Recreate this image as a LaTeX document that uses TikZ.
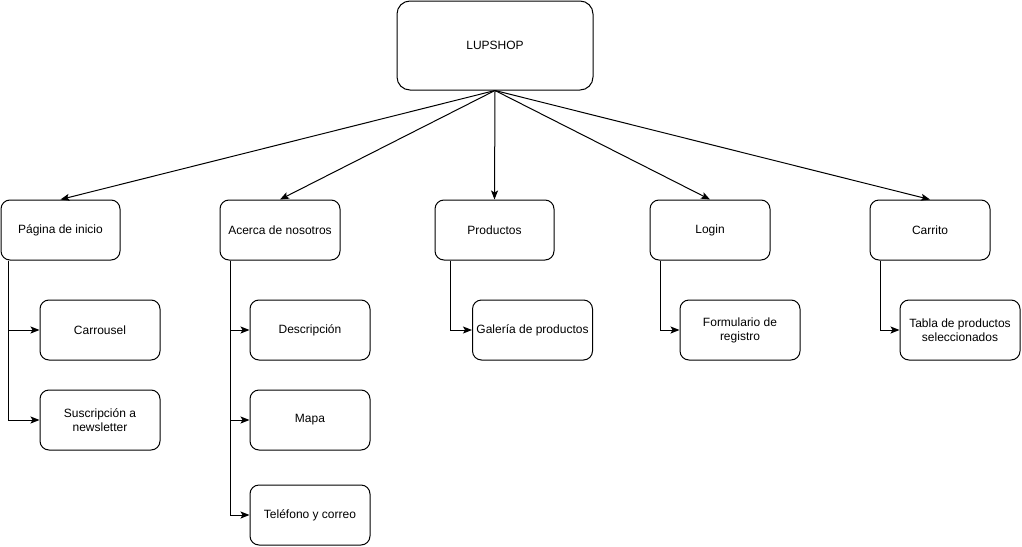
\documentclass[tikz,border=0pt]{standalone}
\usepackage{fontspec}
\setmainfont{Liberation Sans}
\usetikzlibrary{arrows.meta}
\begin{document}
\begin{tikzpicture}[x=1pt,y=-1pt,
  box/.style={draw,line width=1pt,rounded corners=9pt,align=center,
    minimum width=120pt,minimum height=60pt,inner sep=2pt,
    font=\fontsize{12}{14}\selectfont},
  arr/.style={line width=1pt,-{Stealth[length=9pt,width=7pt,inset=2pt]}}]
\useasboundingbox (0,0) rectangle (1022,546);
% root
\node[box,minimum width=196pt,minimum height=89pt,rounded corners=13pt] (root) at (495,45.5) {LUPSHOP};
% first level
\node[box,minimum width=119pt] (pg) at (60.5,230) {Página de inicio};
\node[box] (ac) at (280,230) {Acerca de nosotros};
\node[box,minimum width=119pt] (pr) at (494.5,230) {Productos};
\node[box] (lg) at (710,230) {Login};
\node[box] (ca) at (930,230) {Carrito};
% second level
\node[box] (car) at (100,330) {Carrousel};
\node[box] (sus) at (100,420) {Suscripción a\\newsletter};
\node[box] (des) at (310,330) {Descripción};
\node[box] (map) at (310,420) {Mapa};
\node[box] (tel) at (310,515) {Teléfono y correo};
\node[box] (gal) at (532.5,330) {Galería de productos};
\node[box] (frm) at (740,330) {Formulario de\\registro};
\node[box] (tab) at (960,330) {Tabla de productos\\seleccionados};
% root to sections
\foreach \n in {pg,ac,pr,lg,ca}
  \draw[arr] (root.south) -- (\n.north);
% sections to their parts
\draw[arr] ([xshift=8pt]pg.south west) |- (car.west);
\draw[arr] ([xshift=8pt]pg.south west) |- (sus.west);
\draw[arr] ([xshift=10.5pt]ac.south west) |- (des.west);
\draw[arr] ([xshift=10.5pt]ac.south west) |- (map.west);
\draw[arr] ([xshift=10.5pt]ac.south west) |- (tel.west);
\draw[arr] ([xshift=16pt]pr.south west) |- (gal.west);
\draw[arr] ([xshift=11pt]lg.south west) |- (frm.west);
\draw[arr] ([xshift=11pt]ca.south west) |- (tab.west);
\end{tikzpicture}
\end{document}
